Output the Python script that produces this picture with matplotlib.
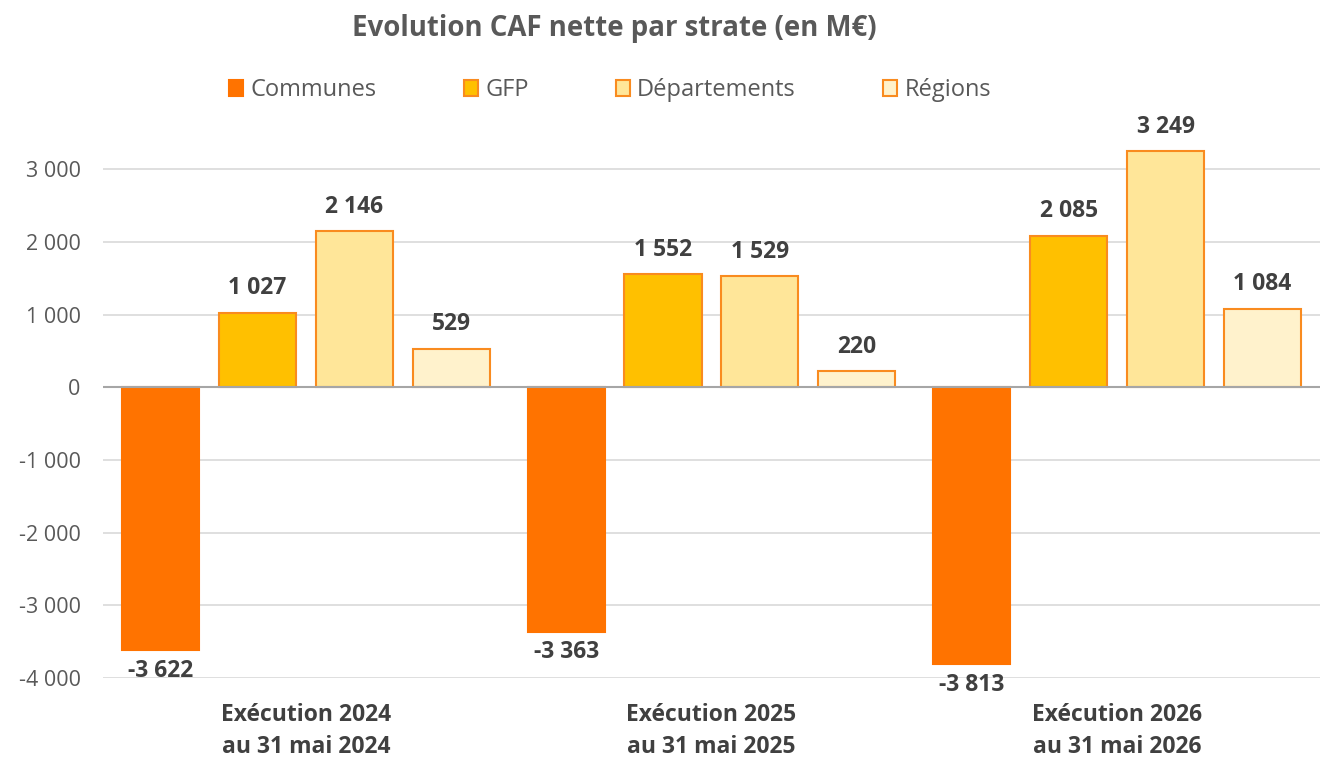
import matplotlib
matplotlib.use("Agg")
import matplotlib.pyplot as plt
import matplotlib.patches as mpatches
import numpy as np

# Données (M€)
categories = ["Exécution 2024\nau 31 mai 2024",
              "Exécution 2025\nau 31 mai 2025",
              "Exécution 2026\nau 31 mai 2026"]
strates = ["Communes", "GFP", "Départements", "Régions"]
communes = [-3622, -3363, -3813]
gfp = [1027, 1552, 2085]
departements = [2146, 1529, 3249]
regions = [529, 220, 1084]

yticks = [-4000, -3000, -2000, -1000, 0, 1000, 2000, 3000]

fill_colors = ["#FF7300", "#FFC000", "#FFE699", "#FFF2CC"]
edge_colors = ["#FF7300", "#F98B1F", "#F98B1F", "#F98B1F"]
text_grey = "#595959"
label_grey = "#404040"


def fmt(v):
    s = f"{abs(v):,}".replace(",", " ")
    return ("-" if v < 0 else "") + s


def main():
    plt.rcParams["font.family"] = ["Open Sans", "DejaVu Sans"]

    fig = plt.figure(figsize=(13.25, 7.57), dpi=100)
    ax = fig.add_axes([0.0777, 0.1044, 0.9185, 0.72])

    x = np.arange(len(categories))
    slot = 0.2388
    width = 0.19
    series = [communes, gfp, departements, regions]

    for i, (vals, name) in enumerate(zip(series, strates)):
        pos = x + (i - 1.5) * slot
        bars = ax.bar(pos, vals, width=width, color=fill_colors[i],
                      edgecolor=edge_colors[i], linewidth=1.5, zorder=3,
                      label=name)
        for b, v in zip(bars, vals):
            cx = b.get_x() + b.get_width() / 2
            if v >= 0:
                ax.annotate(fmt(v), xy=(cx, v), xytext=(0, 9),
                            textcoords="offset points", ha="center", va="bottom",
                            fontsize=16.5, fontweight="bold", color=label_grey)
            else:
                ax.annotate(fmt(v), xy=(cx, v), xytext=(0, -6),
                            textcoords="offset points", ha="center", va="top",
                            fontsize=16.5, fontweight="bold", color=label_grey)

    ax.set_xlim(-0.5, 2.5)
    ax.set_ylim(-4000, 3500)
    ax.set_yticks(yticks)
    ax.set_yticklabels([fmt(t) for t in yticks], fontsize=15.5, color=text_grey)
    ax.set_xticks(x)
    ax.set_xticklabels(categories, fontsize=16.5, fontweight="bold",
                       color=label_grey, linespacing=1.45)
    ax.tick_params(axis="both", length=0)
    ax.tick_params(axis="y", pad=16)
    ax.tick_params(axis="x", pad=18)

    ax.grid(axis="y", color="#D9D9D9", linewidth=1.2, zorder=0)
    ax.axhline(0, color="#A6A6A6", linewidth=1.5, zorder=4)
    for sp in ax.spines.values():
        sp.set_visible(False)

    fig.text(0.4638, 0.963, "Evolution CAF nette par strate (en M€)",
             ha="center", va="center", fontsize=19.9, fontweight="bold",
             color=text_grey)

    handles = [mpatches.Patch(facecolor=fill_colors[i], edgecolor=edge_colors[i],
                              linewidth=1.5, label=strates[i]) for i in range(4)]
    fig.legend(handles=handles, loc="center", bbox_to_anchor=(0.4605, 0.881),
               ncol=4, frameon=False, fontsize=17, handlelength=0.6,
               handleheight=0.7, handletextpad=0.3, columnspacing=3.7,
               labelcolor=text_grey)

    fig.savefig("out.png", dpi=100)
    plt.close(fig)


if __name__ == "__main__":
    main()
